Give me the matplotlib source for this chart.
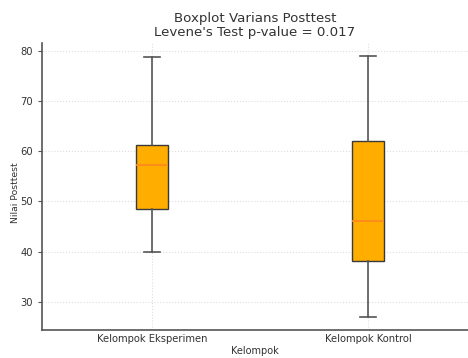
import matplotlib
matplotlib.use("Agg")
import matplotlib.pyplot as plt

# Summary statistics for each group
groups = ["Kelompok Eksperimen", "Kelompok Kontrol"]
whisker_low = [40.0, 26.9]
q1 = [48.4, 38.2]
median = [57.3, 46.0]
q3 = [61.2, 62.1]
whisker_high = [78.8, 78.9]
p_value = 0.017

stats = [
    {"label": g, "whislo": lo, "q1": a, "med": m, "q3": b, "whishi": hi, "fliers": []}
    for g, lo, a, m, b, hi in zip(groups, whisker_low, q1, median, q3, whisker_high)
]

text_color = "#333333"
line_color = "#555555"

fig = plt.figure(figsize=(4.68, 3.58), dpi=100)
ax = fig.add_axes([42 / 468, 28 / 358, 426 / 468, 287 / 358])

ax.bxp(
    stats,
    positions=[1, 2],
    patch_artist=True,
    showfliers=False,
    boxprops=dict(facecolor="#FFAE00", edgecolor="#3a3a3a", linewidth=1.0),
    medianprops=dict(color="#FF8A1C", linewidth=1.3),
    whiskerprops=dict(color=line_color, linewidth=1.2),
    capprops=dict(color=line_color, linewidth=1.2),
)

ax.set_xlim(0.491, 2.463)
ax.set_ylim(24.4, 81.5)
ax.set_yticks([30, 40, 50, 60, 70, 80])

ax.grid(True, linestyle=":", color="#dddddd", linewidth=0.8)
ax.set_axisbelow(True)

for side in ("top", "right"):
    ax.spines[side].set_visible(False)
for side in ("left", "bottom"):
    ax.spines[side].set_color(line_color)
    ax.spines[side].set_linewidth(1.2)

ax.tick_params(axis="both", colors=line_color, labelcolor=text_color, labelsize=7.2,
               length=3, width=0.8)
ax.tick_params(axis="x", length=0, pad=3)

ax.set_xlabel("Kelompok", fontsize=7, color=text_color, labelpad=1)
ax.set_ylabel("Nilai Posttest", fontsize=6.7, color=text_color)
ax.yaxis.set_label_coords(-0.052, 0.48)
ax.set_title(f"Boxplot Varians Posttest\nLevene's Test p-value = {p_value:.3f}",
             fontsize=9.6, color=text_color, pad=5, linespacing=1.1)

fig.savefig("out.png", dpi=100)
